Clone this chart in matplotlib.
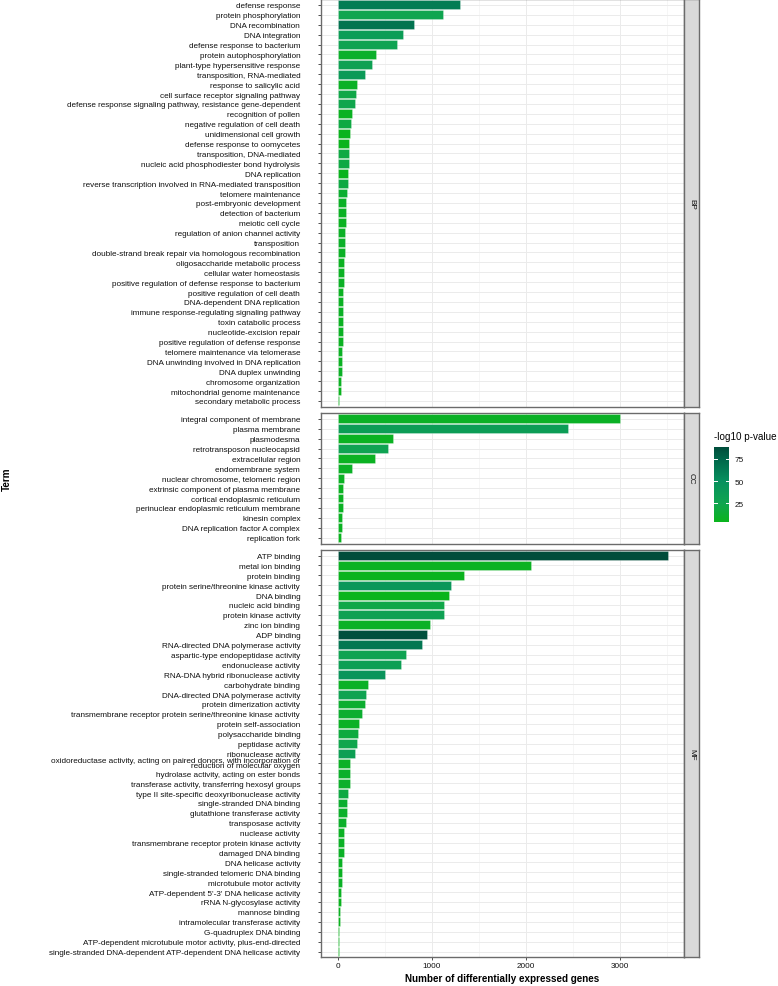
import numpy as np
import matplotlib
matplotlib.use("Agg")
import matplotlib.pyplot as plt
from matplotlib.colors import LinearSegmentedColormap, Normalize
from matplotlib.cm import ScalarMappable

plt.rcParams['font.family'] = ['Liberation Sans', 'DejaVu Sans']

# ---- data ----
bp_terms = ["defense response", "protein phosphorylation", "DNA recombination", "DNA integration",
            "defense response to bacterium", "protein autophosphorylation",
            "plant-type hypersensitive response", "transposition, RNA-mediated",
            "response to salicylic acid", "cell surface receptor signaling pathway",
            "defense response signaling pathway, resistance gene-dependent", "recognition of pollen",
            "negative regulation of cell death", "unidimensional cell growth",
            "defense response to oomycetes", "transposition, DNA-mediated",
            "nucleic acid phosphodiester bond hydrolysis", "DNA replication",
            "reverse transcription involved in RNA-mediated transposition", "telomere maintenance",
            "post-embryonic development", "detection of bacterium", "meiotic cell cycle",
            "regulation of anion channel activity", "transposition",
            "double-strand break repair via homologous recombination",
            "oligosaccharide metabolic process", "cellular water homeostasis",
            "positive regulation of defense response to bacterium",
            "positive regulation of cell death", "DNA-dependent DNA replication",
            "immune response-regulating signaling pathway", "toxin catabolic process",
            "nucleotide-excision repair", "positive regulation of defense response",
            "telomere maintenance via telomerase", "DNA unwinding involved in DNA replication",
            "DNA duplex unwinding", "chromosome organization",
            "mitochondrial genome maintenance", "secondary metabolic process"]
bp_counts = [1301, 1117, 815, 698, 627, 404, 365, 287, 205, 199, 184, 149, 148, 131, 124, 117,
             117, 113, 112, 99, 92, 88, 85, 82, 78, 78, 71, 71, 71, 60, 60, 60, 60, 60, 57, 53,
             50, 43, 35, 32, 21]
bp_logp = [62, 25, 67, 35, 28, 10, 30, 38, 8, 22, 24, 6, 20, 5, 5, 20, 20, 5, 20, 12,
           8, 7, 6, 8, 9, 8, 6, 7, 8, 6, 7, 8, 6, 7, 6, 7, 6, 8, 6, 5, 5]

cc_terms = ["integral component of membrane", "plasma membrane", "plasmodesma",
            "retrotransposon nucleocapsid", "extracellular region", "endomembrane system",
            "nuclear chromosome, telomeric region", "extrinsic component of plasma membrane",
            "cortical endoplasmic reticulum", "perinuclear endoplasmic reticulum membrane",
            "kinesin complex", "DNA replication factor A complex", "replication fork"]
cc_counts = [3006, 2452, 592, 532, 397, 152, 67, 60, 57, 57, 50, 50, 39]
cc_logp = [8, 35, 6, 28, 6, 8, 7, 6, 6, 7, 6, 6, 5]

mf_terms = ["ATP binding", "metal ion binding", "protein binding",
            "protein serine/threonine kinase activity", "DNA binding", "nucleic acid binding",
            "protein kinase activity", "zinc ion binding", "ADP binding",
            "RNA-directed DNA polymerase activity", "aspartic-type endopeptidase activity",
            "endonuclease activity", "RNA-DNA hybrid ribonuclease activity",
            "carbohydrate binding", "DNA-directed DNA polymerase activity",
            "protein dimerization activity",
            "transmembrane receptor protein serine/threonine kinase activity",
            "protein self-association", "polysaccharide binding", "peptidase activity",
            "ribonuclease activity",
            "oxidoreductase activity, acting on paired donors, with incorporation or\nreduction of molecular oxygen",
            "hydrolase activity, acting on ester bonds",
            "transferase activity, transferring hexosyl groups",
            "type II site-specific deoxyribonuclease activity", "single-stranded DNA binding",
            "glutathione transferase activity", "transposase activity", "nuclease activity",
            "transmembrane receptor protein kinase activity", "damaged DNA binding",
            "DNA helicase activity", "single-stranded telomeric DNA binding",
            "microtubule motor activity", "ATP-dependent 5'-3' DNA helicase activity",
            "rRNA N-glycosylase activity", "mannose binding",
            "intramolecular transferase activity", "G-quadruplex DNA binding",
            "ATP-dependent microtubule motor activity, plus-end-directed",
            "single-stranded DNA-dependent ATP-dependent DNA helicase activity"]
mf_counts = [3506, 2060, 1340, 1202, 1181, 1135, 1128, 979, 947, 897, 723, 677, 500, 319, 301,
             294, 259, 230, 223, 206, 184, 138, 131, 128, 113, 103, 96, 89, 74, 67, 67, 53, 50,
             50, 39, 32, 28, 28, 14, 14, 11]
mf_logp = [87.8, 6, 5, 42, 4, 22, 30, 8, 86, 65, 28, 32, 45, 8, 28, 12, 12, 8, 18, 24, 32,
           8, 10, 10, 20, 12, 10, 10, 7, 8, 8, 7, 6, 8, 6, 5, 6, 5, 4, 4, 3.7]

facets = [("BP", bp_terms, bp_counts, bp_logp),
          ("CC", cc_terms, cc_counts, cc_logp),
          ("MF", mf_terms, mf_counts, mf_logp)]

# ---- colour scale ----
all_p = np.concatenate([bp_logp, cc_logp, mf_logp])
vmin, vmax = all_p.min(), all_p.max()
anchors = [(vmin, "#0ab41c"), (25, "#10a550"), (50, "#07905e"), (75, "#00664a"), (vmax, "#004d3b")]
cmap = LinearSegmentedColormap.from_list(
    "gop", [((v - vmin) / (vmax - vmin), c) for v, c in anchors])
norm = Normalize(vmin, vmax)

W, H = 778, 987
fig = plt.figure(figsize=(W / 100, H / 100), dpi=100)


def box(x0, y0, x1, y1):
    return [x0 / W, 1 - y1 / H, (x1 - x0) / W, (y1 - y0) / H]


row_h = 9.9
left_px, right_px = 321, 684
gap = 6
y_top = 0
xmax = max(mf_counts)
xlim = (-0.05 * xmax, 1.05 * xmax)
border_col = "#6b6b6b"
txt_col = "#111111"

axes = []
for i, (name, terms, counts, logp) in enumerate(facets):
    n = len(terms)
    hpx = (n + 0.2) * row_h
    ax = fig.add_axes(box(left_px, y_top, right_px, y_top + hpx))
    pos = np.arange(n)
    ax.barh(pos, counts, height=0.9, color=cmap(norm(np.array(logp))),
            edgecolor=(1, 1, 1, 0.45), linewidth=0.4, zorder=3)
    ax.set_ylim(n - 0.4, -0.6)
    ax.set_xlim(*xlim)
    ax.set_yticks(pos)
    ax.set_yticklabels(terms, fontsize=5.85, color=txt_col)
    for lab in ax.get_yticklabels():
        if "\n" in lab.get_text():
            lab.set_linespacing(0.55)
    ax.set_xticks([0, 1000, 2000, 3000])
    ax.set_xticks([500, 1500, 2500, 3500], minor=True)
    ax.grid(True, which="major", color="#ebebeb", lw=0.7, zorder=0)
    ax.grid(True, which="minor", axis="x", color="#f3f3f3", lw=0.5, zorder=0)
    ax.set_axisbelow(True)
    ax.tick_params(axis="y", length=2.2, width=0.6, color="#333333", pad=12.8)
    ax.tick_params(axis="x", which="minor", length=0)
    if i < 2:
        ax.tick_params(axis="x", which="major", length=0, labelbottom=False)
    else:
        ax.tick_params(axis="x", which="major", length=2.2, width=0.6, color="#333333",
                       labelsize=5.85, labelcolor=txt_col, pad=1)
    for s in ax.spines.values():
        s.set_color(border_col)
        s.set_linewidth(1.0)

    # facet strip on the right
    sax = fig.add_axes(box(right_px, y_top, right_px + 15, y_top + hpx))
    sax.set_facecolor("#d9d9d9")
    sax.set_xticks([])
    sax.set_yticks([])
    for s in sax.spines.values():
        s.set_color(border_col)
        s.set_linewidth(1.0)
    sax.text(0.5, 0.5, name, rotation=-90, ha="center", va="center", fontsize=5.85,
             color=txt_col, transform=sax.transAxes)

    axes.append(ax)
    y_top += hpx + gap

axes[-1].set_xlabel("Number of differentially expressed genes", fontsize=7.1,
                    fontweight="bold", labelpad=3)
fig.text(6.5 / W, 1 - 479 / H, "Term", rotation=90, ha="center", va="center",
         fontsize=7.1, fontweight="bold")

# ---- colour bar legend ----
cax = fig.add_axes(box(714.3, 448.3, 729.3, 523.3))
cb = fig.colorbar(ScalarMappable(norm=norm, cmap=cmap), cax=cax)
cb.outline.set_visible(False)
cb.set_ticks([25, 50, 75])
cax.tick_params(length=0, labelsize=5.85, labelcolor=txt_col, pad=4)
for t in [25, 50, 75]:
    cax.plot([0, 0.2], [t, t], color="white", lw=0.7, transform=cax.get_yaxis_transform())
    cax.plot([0.8, 1.0], [t, t], color="white", lw=0.7, transform=cax.get_yaxis_transform())
fig.text(714 / W, 1 - 437 / H, "-log10 p-value", ha="left", va="center", fontsize=7.1)

fig.savefig("out.png", dpi=100)
